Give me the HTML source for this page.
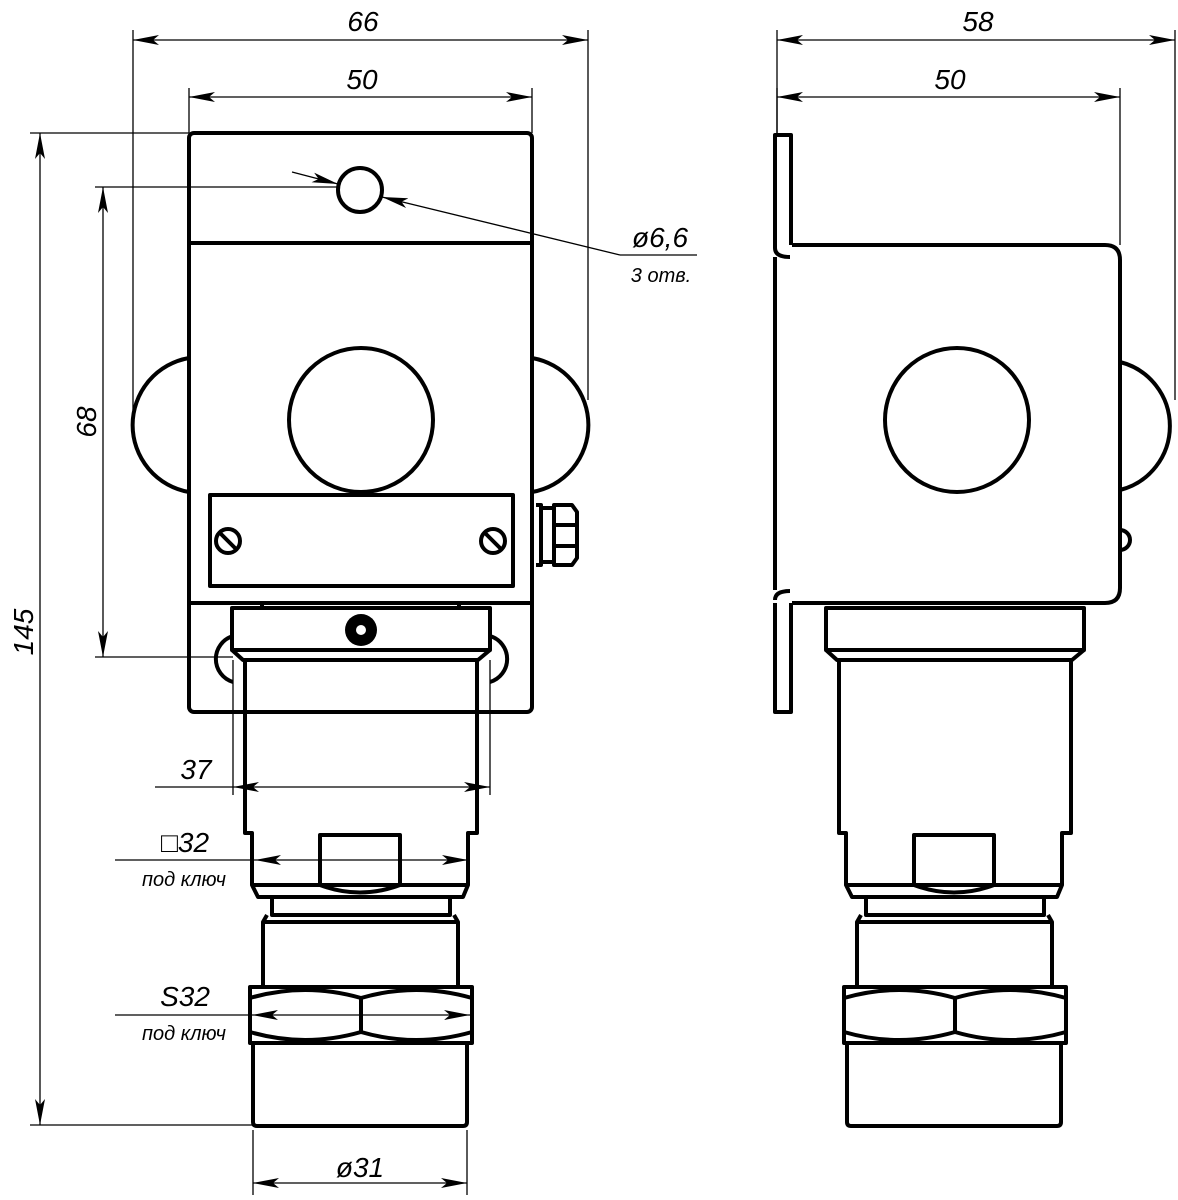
<!DOCTYPE html>
<html><head><meta charset="utf-8"><style>
html,body{margin:0;padding:0;background:#fff}
svg{display:block}
text{font-family:"Liberation Sans",sans-serif;font-style:italic;fill:#000}
</style></head><body>
<svg width="1178" height="1200" viewBox="0 0 1178 1200" xmlns="http://www.w3.org/2000/svg">
<defs>
<marker id="a" viewBox="0 0 26 10" refX="26" refY="5" markerWidth="26" markerHeight="10" markerUnits="userSpaceOnUse" orient="auto-start-reverse">
<path d="M0,0 L26,5 L0,10 L6,5 Z" fill="#000"/>
</marker>
<g id="bot" fill="none" stroke="#000" stroke-width="4" stroke-linejoin="round">
<rect x="232" y="608" width="258" height="42"/>
<path d="M232,650 L243,660 L478,660 L490,650"/>
<path d="M245,660 L245,833 L252,833 L252,885 L258,897 L463,897 L468,885 L468,833 L477,833 L477,660"/>
<line x1="252" y1="885" x2="468" y2="885"/>
<path d="M320,885 L320,835 L400,835 L400,885 Q360,900 320,885"/>
<path d="M272,897 L272,915 L450,915 L450,897"/>
<path d="M267,915 L263,922 L263,987 M458,987 L458,922 L454,915"/>
<line x1="263" y1="922" x2="458" y2="922"/>
<rect x="250" y="987" width="222" height="56"/>
<path d="M250,998 Q305,982 361,998 Q416,982 472,998"/>
<path d="M250,1032 Q305,1048 361,1032 Q416,1048 472,1032"/>
<line x1="361" y1="998" x2="361" y2="1032"/>
<path d="M253,1043 L253,1122 Q253,1126 257,1126 L463,1126 Q467,1126 467,1122 L467,1043"/>
</g>
</defs>

<!-- LEFT VIEW -->
<g fill="none" stroke="#000" stroke-width="4" stroke-linejoin="round">
<path d="M189,358 A68,68 0 0 0 189,492"/>
<path d="M532,358 A68,68 0 0 1 532,492"/>
<rect x="189" y="133" width="343" height="579" rx="5"/>
<line x1="189" y1="243" x2="532" y2="243"/>
<circle cx="360" cy="190" r="22"/>
<circle cx="361" cy="420" r="72" fill="#fff"/>
<rect x="210" y="495" width="303" height="91"/>
<circle cx="228" cy="541" r="12"/><line x1="220" y1="533" x2="236" y2="549"/>
<circle cx="493" cy="541" r="12"/><line x1="485" y1="533" x2="501" y2="549"/>
<path d="M536,505 L541,505 L541,565 L536,565 M541,508 L554,508 L554,562 L541,562"/>
<path d="M554,505 L572,505 L577,512 L577,558 L572,565 L554,565 Z"/>
<line x1="554" y1="525" x2="577" y2="525"/><line x1="554" y1="546" x2="577" y2="546"/>
<line x1="189" y1="603" x2="532" y2="603"/>
<line x1="262" y1="603" x2="262" y2="608"/><line x1="459" y1="603" x2="459" y2="608"/>
<path d="M233,636 A24,24 0 0 0 233,682"/>
<path d="M490,636 A24,24 0 0 1 490,682"/>
</g>
<use href="#bot"/>
<circle cx="361" cy="630" r="16" fill="#000"/>
<circle cx="361" cy="630" r="5" fill="#fff"/>

<!-- RIGHT VIEW -->
<g fill="none" stroke="#000" stroke-width="4" stroke-linejoin="round">
<path d="M1120,362 A66,66 0 0 1 1120,490"/>
<path d="M775,257 L775,590"/>
<path d="M792,245 L1105,245 Q1120,245 1120,260 L1120,588 Q1120,603 1105,603 L792,603"/>
<path d="M775,248 L775,135 L791,135 L791,245 M775,248 Q775,257 790,257"/>
<path d="M775,603 L775,712 L791,712 L791,603 M775,600 Q775,591 790,591"/>
<circle cx="957" cy="420" r="72"/>
<path d="M1120,530 A10,10 0 0 1 1120,550"/>
</g>
<use href="#bot" transform="translate(594,0)"/>

<!-- DIMENSIONS -->
<g stroke="#000" stroke-width="1.3" fill="none">
<line x1="133" y1="30" x2="133" y2="410"/><line x1="588" y1="30" x2="588" y2="400"/>
<line x1="133" y1="40" x2="588" y2="40" marker-start="url(#a)" marker-end="url(#a)"/>
<line x1="189" y1="88" x2="189" y2="133"/><line x1="532" y1="88" x2="532" y2="133"/>
<line x1="189" y1="97" x2="532" y2="97" marker-start="url(#a)" marker-end="url(#a)"/>
<line x1="30" y1="133" x2="189" y2="133"/><line x1="30" y1="1125" x2="253" y2="1125"/>
<line x1="40" y1="133" x2="40" y2="1125" marker-start="url(#a)" marker-end="url(#a)"/>
<line x1="95" y1="187" x2="340" y2="187"/><line x1="95" y1="657" x2="233" y2="657"/>
<line x1="103" y1="187" x2="103" y2="657" marker-start="url(#a)" marker-end="url(#a)"/>
<line x1="233" y1="660" x2="233" y2="795"/><line x1="490" y1="660" x2="490" y2="795"/>
<line x1="155" y1="787" x2="233" y2="787"/>
<line x1="233" y1="787" x2="490" y2="787" marker-start="url(#a)" marker-end="url(#a)"/>
<line x1="115" y1="860" x2="255" y2="860"/>
<line x1="255" y1="860" x2="468" y2="860" marker-start="url(#a)" marker-end="url(#a)"/>
<line x1="115" y1="1015" x2="252" y2="1015"/>
<line x1="252" y1="1015" x2="470" y2="1015" marker-start="url(#a)" marker-end="url(#a)"/>
<line x1="253" y1="1130" x2="253" y2="1195"/><line x1="467" y1="1130" x2="467" y2="1195"/>
<line x1="253" y1="1183" x2="467" y2="1183" marker-start="url(#a)" marker-end="url(#a)"/>
<line x1="292" y1="172" x2="338" y2="184" marker-end="url(#a)"/>
<line x1="620" y1="255" x2="382" y2="197" marker-end="url(#a)"/>
<line x1="620" y1="255" x2="697" y2="255"/>
<line x1="777" y1="30" x2="777" y2="133"/><line x1="1175" y1="30" x2="1175" y2="400"/>
<line x1="777" y1="40" x2="1175" y2="40" marker-start="url(#a)" marker-end="url(#a)"/>
<line x1="777" y1="88" x2="777" y2="133"/><line x1="1120" y1="88" x2="1120" y2="245"/>
<line x1="777" y1="97" x2="1120" y2="97" marker-start="url(#a)" marker-end="url(#a)"/>
</g>

<g font-size="28">
<text x="363" y="31" text-anchor="middle">66</text>
<text x="362" y="89" text-anchor="middle">50</text>
<text x="978" y="31" text-anchor="middle">58</text>
<text x="950" y="89" text-anchor="middle">50</text>
<text transform="translate(33,632) rotate(-90)" text-anchor="middle">145</text>
<text transform="translate(96,422) rotate(-90)" text-anchor="middle">68</text>
<text x="196" y="779" text-anchor="middle">37</text>
<text x="185" y="852" text-anchor="middle">□32</text>
<text x="185" y="1006" text-anchor="middle">S32</text>
<text x="360" y="1177" text-anchor="middle">ø31</text>
<text x="660" y="247" text-anchor="middle">ø6,6</text>
</g>
<g font-size="20">
<text x="184" y="886" text-anchor="middle">под ключ</text>
<text x="184" y="1040" text-anchor="middle">под ключ</text>
<text x="661" y="282" text-anchor="middle">3 отв.</text>
</g>
</svg>
</body></html>
